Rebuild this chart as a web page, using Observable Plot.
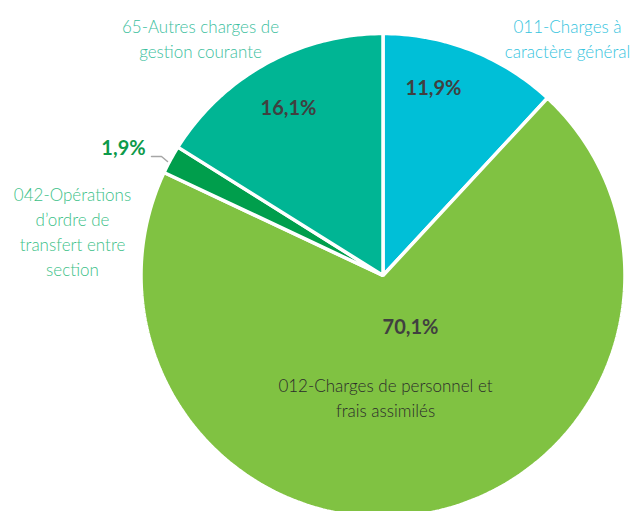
<!DOCTYPE html>
<html><head><meta charset="utf-8">
<script src="https://cdn.jsdelivr.net/npm/d3@7"></script>
<script src="https://cdn.jsdelivr.net/npm/@observablehq/plot@0.6"></script>
<style>body{margin:0;background:#fff}</style>
</head><body><div id="chart"></div>
<script>
// Data
const categories = ["011-Charges à caractère général", "012-Charges de personnel et frais assimilés", "042-Opérations d'ordre de transfert entre section", "65-Autres charges de gestion courante"];
const shares = [11.9, 70.1, 1.9, 16.1];
const pctLabels = ["11,9%", "70,1%", "1,9%", "16,1%"];
const nameLines = ["011-Charges à\ncaractère général", "012-Charges de personnel et\nfrais assimilés", "042-Opérations\nd\u2019ordre de\ntransfert entre\nsection", "65-Autres charges de\ngestion courante"];

// Style / layout
const colors = ["#00bfd7", "#80c242", "#009e4c", "#00b594"];
const R = 242;
const nameColors = ["#35c4de", "#2b2b2b", "#3cbf88", "#3cc09e"];
const pctColors = ["#404040", "#404040", "#0e9a4a", "#404040"];
const namePos = [[184.5, 238], [2.5, -121], [-310.5, 45], [-182.5, 238]];
const pctPos = [[50.5, 187], [27.5, -52], [-259.5, 127], [-94.5, 167]];

const arcs = d3.pie().sort(null).value(d => d)(shares);
const slicePts = [];
arcs.forEach((a, i) => {
  slicePts.push({cat: categories[i], x: 0, y: 0});
  const n = Math.max(2, Math.ceil((a.endAngle - a.startAngle) / (Math.PI / 180)));
  for (let k = 0; k <= n; k++) {
    const t = a.startAngle + (a.endAngle - a.startAngle) * k / n;
    slicePts.push({cat: categories[i], x: R * Math.sin(t), y: R * Math.cos(t)});
  }
});

const names = categories.map((c, i) => ({text: nameLines[i], x: namePos[i][0], y: namePos[i][1], color: nameColors[i]}));
const pcts = categories.map((c, i) => ({text: pctLabels[i], x: pctPos[i][0], y: pctPos[i][1], color: pctColors[i]}));
const leader = [{x: -231.5, y: 119}, {x: -221.5, y: 119}, {x: -215.5, y: 114}];

const chart = Plot.plot({
  width: 637, height: 511,
  margin: 0,
  x: {domain: [-382.5, 254.5], axis: null},
  y: {domain: [-236, 275], axis: null},
  color: {domain: categories, range: colors},
  marks: [
    Plot.line(slicePts, {x: "x", y: "y", z: "cat", fill: "cat", stroke: "white", strokeWidth: 3.5, strokeLinejoin: "miter", curve: "linear-closed"}),
    Plot.line(leader, {x: "x", y: "y", stroke: "#a6a6a6", strokeWidth: 1.5}),
    Plot.text(names, {x: "x", y: "y", text: "text", fill: d => d.color, fontSize: 17, fontFamily: "Lato", fontWeight: 300, lineHeight: 1.47, textAnchor: "middle"}),
    Plot.text(pcts, {x: "x", y: "y", text: "text", fill: d => d.color, fontSize: 20, fontFamily: "Lato", fontWeight: "bold", textAnchor: "middle"})
  ]
});
document.getElementById("chart").appendChild(chart);
</script>
</body></html>
